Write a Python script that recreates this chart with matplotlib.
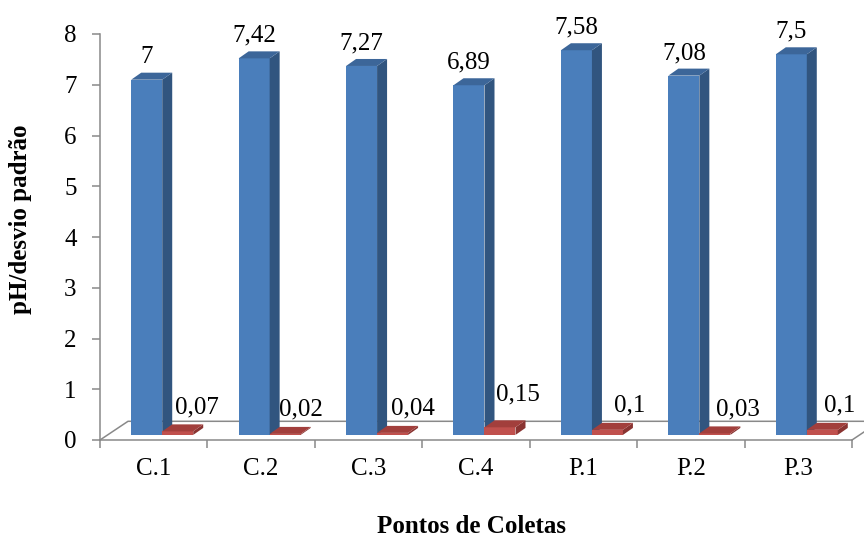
import matplotlib
matplotlib.use("Agg")
import matplotlib.pyplot as plt
from matplotlib.patches import Polygon

plt.rcParams['font.family'] = ['Liberation Serif', 'DejaVu Serif']

categories = ["C.1", "C.2", "C.3", "C.4", "P.1", "P.2", "P.3"]
ph = [7, 7.42, 7.27, 6.89, 7.58, 7.08, 7.5]
desvio = [0.07, 0.02, 0.04, 0.15, 0.1, 0.03, 0.1]
ph_labels = ["7", "7,42", "7,27", "6,89", "7,58", "7,08", "7,5"]
desvio_labels = ["0,07", "0,02", "0,04", "0,15", "0,1", "0,03", "0,1"]
# little pixel nudges for the small labels (excel moved them around)
desvio_dx = [13, 9, 14, 12, 22, 17, 17]
desvio_dy = [0, 0, 0, 9, 0, 0, 0]

W, H = 864, 544
fig = plt.figure(figsize=(W / 100, H / 100), dpi=100)
ax = fig.add_axes([100 / W, 104 / H, 752 / W, 406 / H])
ax.set_xlim(-0.5, 6.5)
ax.set_ylim(0, 8)

px = 7 / 752   # one pixel in x data units
py = 8 / 406   # one pixel in y data units
gray = '#898989'

bw = 31 * px
base = 0.1
ddx, ddy = 10 * px, 7 * py
xs = list(range(len(categories)))
left_blue = [i - 22.5 * px for i in xs]
left_red = [l + bw for l in left_blue]


def box(lefts, vals, front, top, side):
    bars = ax.bar(lefts, vals, width=bw, bottom=base, align='edge',
                  color=front, zorder=3, clip_on=False)
    for b in bars:
        x0 = b.get_x()
        x1 = x0 + b.get_width()
        y0 = b.get_y()
        y1 = y0 + b.get_height()
        ax.add_patch(Polygon([(x1, y0), (x1 + ddx, y0 + ddy), (x1 + ddx, y1 + ddy), (x1, y1)],
                             closed=True, fc=side, ec='none', zorder=3, clip_on=False))
        ax.add_patch(Polygon([(x0, y1), (x1, y1), (x1 + ddx, y1 + ddy), (x0 + ddx, y1 + ddy)],
                             closed=True, fc=top, ec='none', zorder=3, clip_on=False))


box(left_blue, ph, '#4a7ebb', '#3c6699', '#31557f')
box(left_red, desvio, '#c0504d', '#a23f3c', '#8a3432')

# floor of the 3d plot
dfx, dfy = 28 * px, 18.7 * py
ax.plot([-0.5, -0.5 + dfx, 6.5 + dfx], [0, dfy, dfy], color=gray, lw=1.1, clip_on=False, zorder=1)
ax.plot([6.5, 6.5 + dfx], [0, dfy], color=gray, lw=1.1, clip_on=False, zorder=1)

for s in ['top', 'right']:
    ax.spines[s].set_visible(False)
for s in ['left', 'bottom']:
    ax.spines[s].set_color(gray)
    ax.spines[s].set_linewidth(1.1)

ax.set_yticks(range(9))
ax.tick_params(axis='y', length=5.8, width=1.1, color=gray, labelsize=18, pad=11)
ax.set_xticks([i - 0.5 for i in range(8)])
ax.set_xticklabels([])
ax.set_xticks(xs, minor=True)
ax.set_xticklabels(categories, minor=True)
ax.tick_params(axis='x', which='major', length=5.8, width=1.1, color=gray)
ax.tick_params(axis='x', which='minor', length=0, labelsize=18, pad=12.7)

for i, v in enumerate(ph):
    ax.text(left_blue[i] + bw / 2, base + v + ddy + 9.5 * py, ph_labels[i],
            ha='center', va='baseline', fontsize=18)
for i, v in enumerate(desvio):
    ax.text(left_red[i] + desvio_dx[i] * px, base + v + ddy + (11 + desvio_dy[i]) * py,
            desvio_labels[i], ha='left', va='baseline', fontsize=18)

fig.text(21 / W, 1 - 219 / H, "pH/desvio padrão", rotation=90, ha='center', va='center',
         fontsize=18, fontweight='bold')
fig.text(471.7 / W, 1 - 533 / H, "Pontos de Coletas", ha='center', va='baseline',
         fontsize=18, fontweight='bold')

fig.savefig('out.png', dpi=100)
